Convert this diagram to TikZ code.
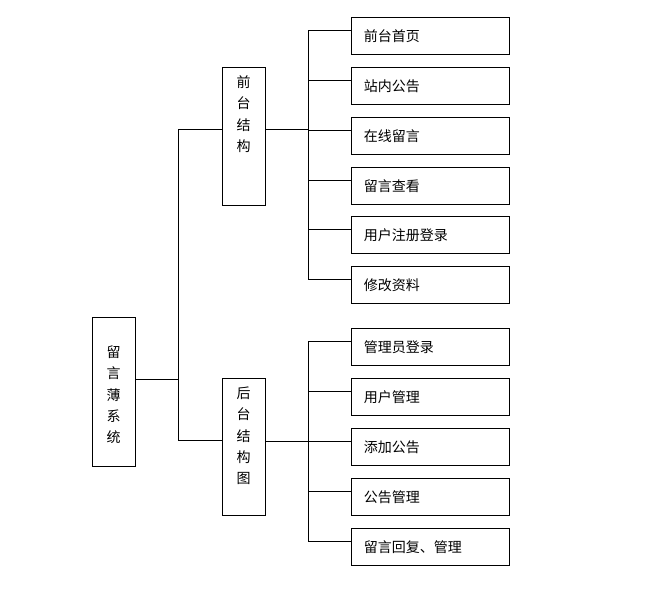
\documentclass[tikz,border=0pt]{standalone}
\usepackage{fontspec}
\newfontfamily\cjk{Noto Sans CJK SC}
\begin{document}
\begin{tikzpicture}[x=0.75pt,y=-0.75pt,
  box/.style={draw,line width=0.8pt,inner sep=0pt,anchor=north west},
  leaf/.style={box,minimum width=118.5pt,minimum height=27.75pt,text width=108pt,align=left,font=\cjk\fontsize{10.5}{12}\selectfont},
  vt/.style={font=\cjk\fontsize{10.5}{16}\selectfont,align=center,anchor=north},
  ln/.style={line width=0.6pt}]
\useasboundingbox (0,0) rectangle (667,593);
\fill[white] (0,0) rectangle (667,593);
\node[box,minimum width=32.25pt,minimum height=111.75pt] (root) at (92,317) {};
\node[vt] (rt) at (113.5,341) {留\\言\\薄\\系\\统};
\node[box,minimum width=32.25pt,minimum height=103.5pt] (front) at (222,67) {};
\node[vt] (ft) at (243.5,71) {前\\台\\结\\构};
\node[box,minimum width=32.25pt,minimum height=102.75pt] (back) at (222,378) {};
\node[vt] (bt) at (243.5,382) {后\\台\\结\\构\\图};
\foreach \n/\y/\t in {f1/17/前台首页,f2/67/站内公告,f3/117/在线留言,f4/167/留言查看,f5/216/用户注册登录,f6/266/修改资料,
  b1/328/管理员登录,b2/378/用户管理,b3/428/添加公告,b4/478/公告管理,b5/528/留言回复、管理}
  \node[leaf] (\n) at (351,\y) {\hspace*{4pt}\t};
\coordinate (j0) at (178,379);
\coordinate (jt) at (178,129);
\coordinate (jb) at (178,440);
\draw[ln] (root.east |- j0) -- (j0);
\draw[ln] (jt) -- (jb);
\draw[ln] (jt) -- (front.west |- jt);
\draw[ln] (jb) -- (back.west |- jb);
\coordinate (ft1) at (308,129);
\coordinate (bt1) at (308,441);
\draw[ln] (front.east |- ft1) -- (ft1);
\draw[ln] (back.east |- bt1) -- (bt1);
\draw[ln] ([yshift=-13*0.75pt]f1.north west) -| ([yshift=-13*0.75pt]f6.north west -| ft1) -- ([yshift=-13*0.75pt]f6.north west);
\foreach \n in {f2,f3,f4,f5}
  \draw[ln] ([yshift=-13*0.75pt]\n.north west) -- ++(-43,0);
\draw[ln] ([yshift=-13*0.75pt]b1.north west) -| ([yshift=-13*0.75pt]b5.north west -| bt1) -- ([yshift=-13*0.75pt]b5.north west);
\foreach \n in {b2,b3,b4}
  \draw[ln] ([yshift=-13*0.75pt]\n.north west) -- ++(-43,0);
\end{tikzpicture}
\end{document}
